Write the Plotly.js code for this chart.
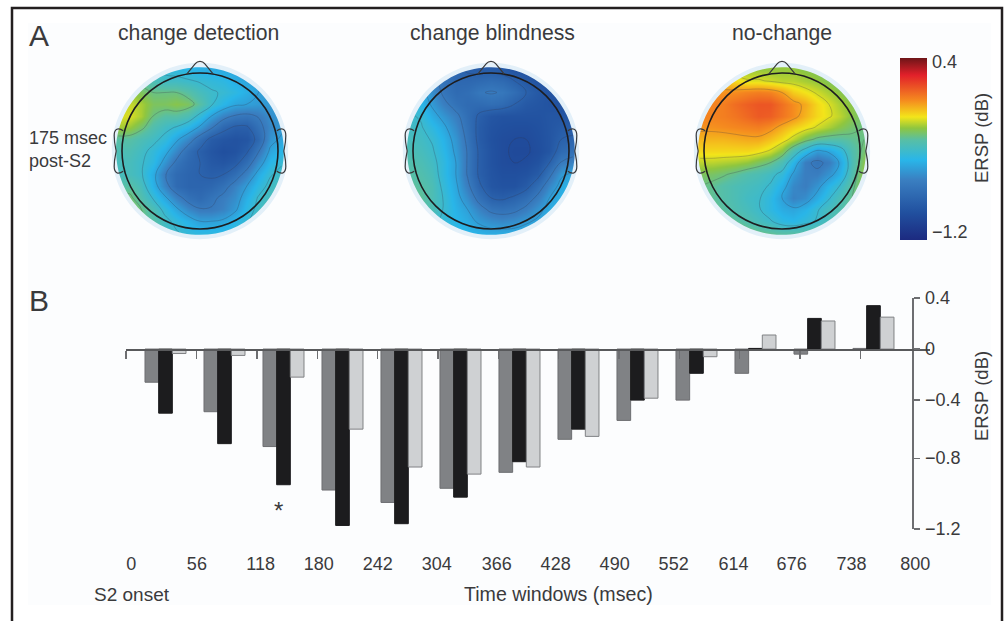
<!DOCTYPE html>
<html><head><meta charset="utf-8">
<script src="https://cdn.plot.ly/plotly-3.0.1.min.js"></script>
<style>html,body{margin:0;padding:0;background:#fff;overflow:hidden}#c{width:1004px;height:621px}</style>
</head><body><div id="c"></div>
<script>
// ---------- Panel B data (ERSP in dB) ----------
const windowCenters = [25,87,149,211,273,335,397,459,521,583,645,707,769];
const changeDetection = [-0.26,-0.48,-0.72,-0.98,-1.05,-0.97,-0.88,-0.67,-0.54,-0.40,-0.19,-0.04,0.005];
const changeBlindness = [-0.49,-0.70,-0.95,-1.18,-1.17,-1.02,-0.82,-0.60,-0.40,-0.19,0.005,0.24,0.34];
const noChange        = [-0.035,-0.05,-0.22,-0.60,-0.85,-0.89,-0.85,-0.65,-0.385,-0.06,0.11,0.22,0.25];
const timeLabels = ['0','56','118','180','242','304','366','428','490','552','614','676','738','800'];
const timeLabelPos = [-11,58,125,186,248,310,373,435,497,559,622,683,746,813];
const windowTicks = [-16.5,56,118,180,242,304,366,428,490,552,614,676,738];
// The printed dB axis of the original is unevenly spaced
const dbTicks = [0.4,0,-0.4,-0.8,-1.2];
const dbTickText = ['0.4','0','−0.4','−0.8','−1.2'];
const dbTickPlace = [0.4,0,-0.4,-0.855,-1.41];

// ---------- Panel A data (scalp maps, ERSP in dB) ----------
const gridPos = [-1.05,-0.9,-0.75,-0.6,-0.45,-0.3,-0.15,0,0.15,0.3,0.45,0.6,0.75,0.9,1.05];
// rows listed from the top of the head (front) to the back
const mapDetection = [
[-.40,-.40,-.42,-.45,-.48,-.50,-.52,-.55,-.56,-.57,-.58,-.60,-.60,-.60,-.60],
[-.35,-.33,-.34,-.38,-.42,-.42,-.44,-.46,-.48,-.50,-.55,-.58,-.60,-.62,-.62],
[-.22,-.22,-.26,-.30,-.30,-.30,-.34,-.40,-.44,-.46,-.50,-.55,-.60,-.62,-.62],
[-.17,-.17,-.20,-.26,-.26,-.24,-.26,-.34,-.44,-.52,-.58,-.60,-.62,-.62,-.60],
[-.15,-.15,-.20,-.30,-.34,-.34,-.38,-.48,-.60,-.70,-.76,-.78,-.74,-.66,-.62],
[-.20,-.22,-.28,-.36,-.42,-.46,-.52,-.62,-.74,-.86,-.92,-.92,-.80,-.68,-.62],
[-.34,-.34,-.38,-.42,-.48,-.58,-.68,-.82,-.94,-.98,-1.0,-.98,-.86,-.64,-.58],
[-.38,-.38,-.42,-.48,-.56,-.68,-.82,-.92,-.98,-1.02,-1.0,-.92,-.76,-.58,-.52],
[-.40,-.40,-.44,-.50,-.64,-.78,-.86,-.90,-.96,-.98,-.94,-.82,-.66,-.52,-.46],
[-.40,-.40,-.44,-.56,-.74,-.84,-.88,-.90,-.92,-.90,-.82,-.70,-.56,-.46,-.42],
[-.34,-.34,-.40,-.54,-.70,-.84,-.88,-.88,-.86,-.80,-.70,-.60,-.50,-.42,-.40],
[-.28,-.28,-.36,-.46,-.58,-.70,-.80,-.84,-.78,-.72,-.66,-.54,-.44,-.40,-.38],
[-.24,-.24,-.30,-.38,-.48,-.58,-.68,-.74,-.74,-.70,-.62,-.50,-.42,-.38,-.36],
[-.24,-.26,-.30,-.34,-.42,-.48,-.54,-.60,-.60,-.58,-.52,-.46,-.40,-.38,-.36],
[-.30,-.30,-.34,-.38,-.42,-.44,-.48,-.50,-.50,-.50,-.46,-.42,-.40,-.38,-.36]];
const mapBlindness = [
[-.60,-.65,-.72,-.80,-.88,-.92,-.94,-.94,-.96,-1.0,-1.0,-1.02,-1.02,-1.02,-1.02],
[-.56,-.62,-.70,-.80,-.86,-.86,-.84,-.82,-.84,-.90,-.96,-1.0,-1.0,-1.02,-1.02],
[-.52,-.56,-.66,-.78,-.84,-.82,-.76,-.74,-.76,-.82,-.90,-.96,-1.0,-1.01,-1.02],
[-.48,-.52,-.62,-.72,-.80,-.84,-.84,-.82,-.84,-.90,-.96,-.98,-1.0,-1.0,-1.0],
[-.44,-.46,-.56,-.64,-.72,-.82,-.92,-.98,-1.0,-1.0,-1.0,-1.0,-.98,-.98,-.98],
[-.42,-.44,-.50,-.58,-.68,-.80,-.94,-1.0,-1.02,-1.03,-1.03,-1.01,-.98,-.94,-.94],
[-.40,-.42,-.46,-.54,-.64,-.78,-.94,-1.01,-1.04,-1.05,-1.05,-1.02,-.98,-.90,-.88],
[-.38,-.40,-.44,-.52,-.62,-.76,-.92,-1.0,-1.04,-1.06,-1.06,-1.03,-.98,-.84,-.80],
[-.36,-.38,-.42,-.50,-.60,-.76,-.92,-1.0,-1.04,-1.05,-1.04,-1.0,-.90,-.74,-.70],
[-.34,-.36,-.40,-.50,-.60,-.76,-.92,-.99,-1.02,-1.02,-1.0,-.94,-.78,-.62,-.58],
[-.32,-.34,-.38,-.48,-.58,-.72,-.88,-.98,-1.0,-1.0,-.94,-.82,-.68,-.56,-.52],
[-.30,-.32,-.38,-.46,-.56,-.66,-.80,-.90,-.92,-.88,-.82,-.72,-.60,-.54,-.52],
[-.32,-.34,-.38,-.46,-.54,-.60,-.70,-.78,-.80,-.78,-.72,-.64,-.56,-.52,-.50],
[-.36,-.38,-.42,-.48,-.52,-.56,-.62,-.66,-.68,-.66,-.62,-.58,-.54,-.52,-.50],
[-.42,-.44,-.46,-.48,-.50,-.52,-.54,-.56,-.56,-.56,-.54,-.52,-.50,-.50,-.50]];
const mapNoChange = [
[-.10,-.12,-.16,-.20,-.22,-.22,-.22,-.22,-.22,-.24,-.26,-.28,-.30,-.30,-.30],
[-.02,-.04,-.06,-.10,-.14,-.14,-.16,-.18,-.18,-.20,-.22,-.25,-.28,-.30,-.30],
[.03,.02,.02,.03,.05,.06,.05,.00,-.08,-.12,-.16,-.20,-.24,-.28,-.30],
[.05,.05,.06,.10,.13,.15,.15,.09,.03,-.02,-.10,-.15,-.20,-.24,-.28],
[.05,.05,.06,.08,.11,.14,.13,.08,.03,-.04,-.10,-.14,-.18,-.24,-.28],
[.02,.02,.03,.04,.05,.06,.03,-.03,-.08,-.12,-.16,-.20,-.24,-.28,-.30],
[-.04,-.04,-.04,-.03,-.02,-.02,-.06,-.11,-.18,-.26,-.32,-.34,-.34,-.32,-.30],
[-.10,-.10,-.10,-.10,-.10,-.12,-.16,-.24,-.38,-.50,-.62,-.58,-.50,-.36,-.28],
[-.18,-.18,-.19,-.20,-.22,-.26,-.30,-.38,-.52,-.72,-.78,-.72,-.58,-.38,-.24],
[-.26,-.27,-.29,-.32,-.36,-.38,-.42,-.48,-.62,-.72,-.72,-.64,-.54,-.36,-.22],
[-.30,-.32,-.35,-.38,-.40,-.42,-.46,-.55,-.68,-.72,-.64,-.52,-.44,-.32,-.22],
[-.30,-.32,-.35,-.38,-.42,-.44,-.50,-.60,-.70,-.66,-.56,-.46,-.38,-.30,-.22],
[-.30,-.30,-.33,-.37,-.40,-.44,-.50,-.56,-.58,-.54,-.46,-.40,-.36,-.30,-.24],
[-.26,-.26,-.28,-.32,-.36,-.40,-.44,-.50,-.52,-.48,-.44,-.38,-.34,-.28,-.24],
[-.22,-.24,-.24,-.26,-.28,-.30,-.32,-.34,-.34,-.34,-.30,-.28,-.26,-.24,-.22]];
const mapTitles = ['change detection','change blindness','no-change'];

// ---------- helpers ----------
const W = 1004, H = 621;
const fx = p => p / W, fy = p => 1 - p / H;
const FONT = '"Liberation Sans", Arial, sans-serif';
const INK = '#3a3a3c', BG = '#fcfdfe';
const ZMIN = -1.275, ZMAX = 0.43;
const scale = [[0,'#1c2a80'],[0.15,'#21509f'],[0.33,'#3a7fc1'],[0.44,'#29b6e9'],[0.55,'#58bfa5'],
  [0.615,'#8fc63f'],[0.676,'#f3e51a'],[0.768,'#f58a1f'],[0.906,'#e2202a'],[1,'#6e1518']];
function place(v){ // position on the unevenly printed dB axis
  for(let i=0;i<dbTicks.length-1;i++){
    if(v<=dbTicks[i] && v>=dbTicks[i+1]){
      const t=(v-dbTicks[i])/(dbTicks[i+1]-dbTicks[i]);
      return dbTickPlace[i]+t*(dbTickPlace[i+1]-dbTickPlace[i]);
    }
  }
  return v;
}
function circlePath(r){
  const k=0.5523*r;
  return `M ${-r} 0 C ${-r} ${k} ${-k} ${r} 0 ${r} C ${k} ${r} ${r} ${k} ${r} 0 C ${r} ${-k} ${k} ${-r} 0 ${-r} C ${-k} ${-r} ${-r} ${-k} ${-r} 0 Z`;
}
const R = 1.25;
const sq = s => `M ${-s} ${-s} L ${s} ${-s} L ${s} ${s} L ${-s} ${s} Z `;
const earL = 'M -0.985 0.26 C -1.05 0.31 -1.10 0.28 -1.10 0.20 C -1.10 0.08 -1.075 0.02 -1.075 0 C -1.075 -0.03 -1.10 -0.08 -1.10 -0.20 C -1.10 -0.28 -1.05 -0.31 -0.985 -0.26';
const earR = 'M 0.985 0.26 C 1.05 0.31 1.10 0.28 1.10 0.20 C 1.10 0.08 1.075 0.02 1.075 0 C 1.075 -0.03 1.10 -0.08 1.10 -0.20 C 1.10 -0.28 1.05 -0.31 0.985 -0.26';
const nose = 'M -0.17 0.985 L -0.06 1.12 C -0.03 1.16 0.03 1.16 0.06 1.12 L 0.17 0.985';

const headCenters = [200,491,782];
const headY = 151, halfBox = 97.5;
const traces = [], shapes = [], annotations = [];
const layout = {
  width:W, height:H, paper_bgcolor:'#ffffff', plot_bgcolor:'rgba(0,0,0,0)',
  margin:{l:0,r:0,t:0,b:0,autoexpand:false}, showlegend:false, font:{family:FONT,color:INK,size:18}, bargap:0.305, bargroupgap:0, barmode:'group'
};
shapes.push({type:'rect',xref:'paper',yref:'paper',layer:'below',x0:fx(28),x1:fx(991),y0:fy(605),y1:fy(23),fillcolor:BG,line:{width:0}});
shapes.push({type:'rect',xref:'paper',yref:'paper',layer:'below',x0:fx(12),x1:fx(1002),y0:-0.1,y1:fy(8),fillcolor:'rgba(0,0,0,0)',line:{color:'#231f20',width:2.5}});

[mapDetection,mapBlindness,mapNoChange].forEach((z,i)=>{
  const n = i===0 ? '' : String(i+1);
  const xa='x'+n, ya='y'+n, cx=headCenters[i];
  layout['xaxis'+n]={domain:[fx(cx-halfBox),fx(cx+halfBox)],range:[-R,R],visible:false,fixedrange:true,anchor:ya};
  layout['yaxis'+n]={domain:[fy(headY+halfBox),fy(headY-halfBox)],range:[-R,R],visible:false,fixedrange:true,anchor:xa};
  const h={type:'heatmap',x:gridPos,y:gridPos.slice().reverse(),z,zmin:ZMIN,zmax:ZMAX,colorscale:scale,zsmooth:'best',xaxis:xa,yaxis:ya,hoverinfo:'skip',showscale:false};
  if(i===2){
    h.showscale=true;
    h.colorbar={x:fx(900),xanchor:'left',y:fy(149),yanchor:'middle',lenmode:'pixels',len:182,thicknessmode:'pixels',thickness:27,xpad:0,ypad:0,
      outlinewidth:0,ticks:'outside',ticklen:2,tickcolor:'rgba(0,0,0,0)',tickvals:[0.4,-1.2],ticktext:['0.4','−1.2'],tickfont:{family:FONT,size:18,color:INK}};
  }
  traces.push(h);
  traces.push({type:'contour',x:gridPos,y:gridPos.slice().reverse(),z,xaxis:xa,yaxis:ya,showscale:false,hoverinfo:'skip',
    contours:{coloring:'none',start:-1.2,end:0.4,size:0.15},line:{color:'rgba(55,55,75,0.38)',width:0.7,smoothing:1.2}});
  const s={xref:xa,yref:ya,layer:'above'};
  shapes.push({...s,type:'path',path:sq(1.2)+circlePath(1.075),fillcolor:'#e3f0f9',line:{width:0}});
  shapes.push({...s,type:'path',path:sq(R)+circlePath(1.13),fillcolor:BG,line:{width:0}});
  shapes.push({...s,type:'circle',x0:-1,x1:1,y0:-1,y1:1,line:{color:'#1d1d20',width:1.6}});
  shapes.push({...s,type:'path',path:nose,line:{color:'#3a3a3c',width:1.2}});
  shapes.push({...s,type:'path',path:earL,line:{color:'#3a3a3c',width:1.2}});
  shapes.push({...s,type:'path',path:earR,line:{color:'#3a3a3c',width:1.2}});
  annotations.push({xref:'paper',yref:'paper',x:fx([198.5,492.5,781.5][i]),y:fy(32.5),text:mapTitles[i],showarrow:false,font:{size:21.2,color:INK},xanchor:'center',yanchor:'middle'});
});

// ---------- bars ----------
layout.xaxis4={domain:[fx(126),fx(930)],range:[-16.5,828.4],anchor:'y4',tickmode:'array',tickvals:timeLabelPos,ticktext:timeLabels,
  ticks:'',showgrid:false,zeroline:false,showline:false,ticklabelstandoff:22,tickfont:{size:18,color:INK},fixedrange:true};
layout.xaxis5={overlaying:'x4',domain:[fx(126),fx(912)],range:[-16.5,809.5],anchor:'free',position:fy(349.3),tickmode:'array',tickvals:windowTicks,
  ticks:'outside',ticklen:8,tickcolor:'#6d6e71',tickwidth:1.2,showticklabels:false,showgrid:false,zeroline:false,showline:true,linecolor:'#58595b',linewidth:1.4,fixedrange:true};
layout.yaxis4={domain:[fy(529),fy(298)],range:[-1.41,0.4],anchor:'free',position:fx(912),side:'right',tickmode:'array',tickvals:dbTickPlace,ticktext:dbTickText,
  ticks:'outside',ticklen:6,tickwidth:1.3,tickcolor:'#6d6e71',showline:true,linecolor:'#6d6e71',linewidth:1.5,showgrid:false,zeroline:false,ticklabelstandoff:2,tickfont:{size:18,color:INK},fixedrange:true};
const bar=(name,vals,color,edge)=>({type:'bar',name,x:windowCenters,y:vals.map(place),xaxis:'x4',yaxis:'y4',marker:{color,line:{color:edge,width:1}},hoverinfo:'skip'});
traces.push(bar('change detection',changeDetection,'#808285','#6d6e71'));
traces.push(bar('change blindness',changeBlindness,'#1c1c1e','#1c1c1e'));
traces.push(bar('no-change',noChange,'#cfd1d3','#808285'));
traces.push({type:'scatter',mode:'markers',x:windowTicks,y:windowTicks.map(()=>0),xaxis:'x5',yaxis:'y4',marker:{opacity:0,size:1},hoverinfo:'skip'});

// ---------- text ----------
const txt=(x,y,text,size,extra={})=>annotations.push({xref:'paper',yref:'paper',x:fx(x),y:fy(y),text,showarrow:false,font:{size,color:INK},xanchor:'left',yanchor:'middle',...extra});
txt(26.5,35,'A',30);
txt(26.5,301,'B',30);
txt(27,138,'175 msec',18);
txt(27,161,'post-S2',18);
txt(92,594,'S2 onset',19);
txt(462,594,'Time windows (msec)',19.6);
txt(981,138,'ERSP (dB)',18.5,{textangle:-90,xanchor:'center'});
txt(982,396,'ERSP (dB)',18.5,{textangle:-90,xanchor:'center'});
txt(278,510,'*',24,{xanchor:'center'});

layout.shapes=shapes; layout.annotations=annotations;
Plotly.newPlot('c',traces,layout,{displayModeBar:false,staticPlot:true});
</script></body></html>
